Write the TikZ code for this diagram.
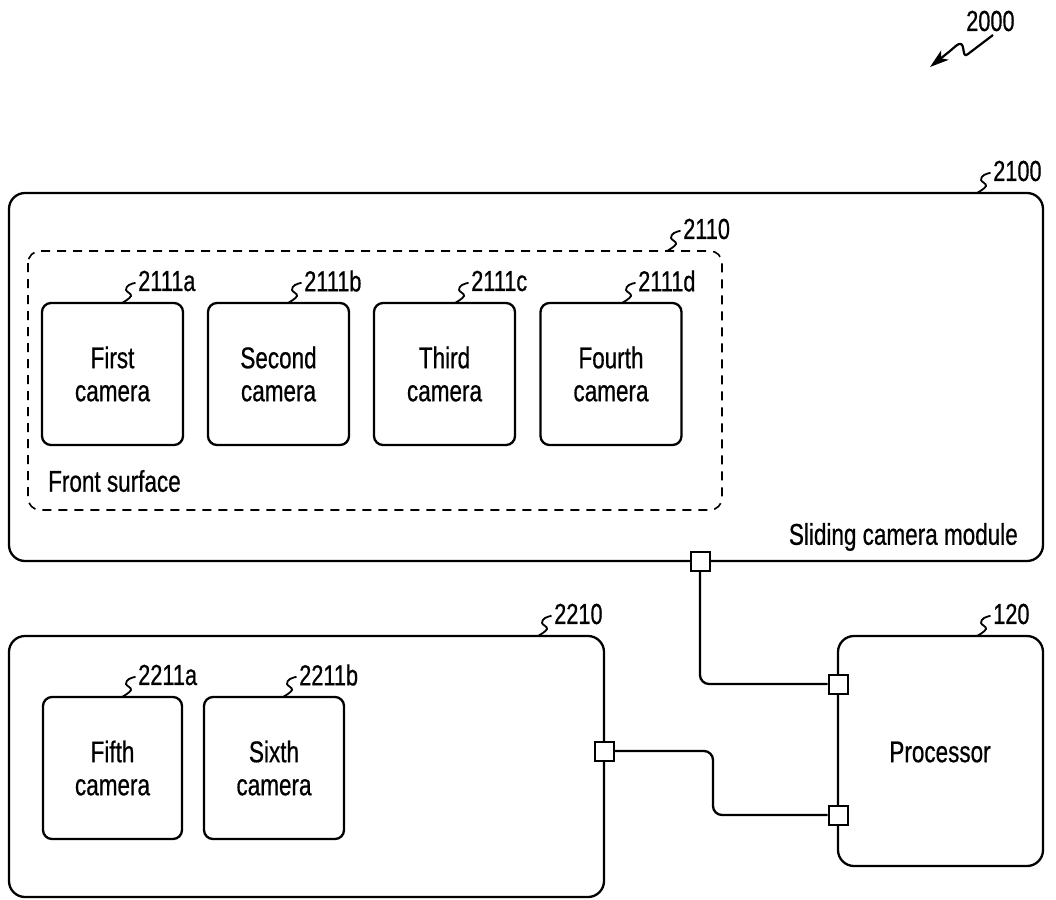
\documentclass[tikz,border=0pt]{standalone}
\usepackage{fontspec}
\setmainfont{Liberation Sans}[FakeStretch=0.75,FakeBold=0.6]
\usetikzlibrary{arrows.meta,calc}
\tikzset{
  boxline/.style={draw, line width=2.3pt, line join=round},
  bigbox/.style={boxline, rounded corners=16pt, inner sep=0pt},
  cam/.style={boxline, rounded corners=9pt, inner sep=0pt, align=center,
    minimum width=141pt, minimum height=142pt, font=\fontsize{30}{33}\selectfont},
  port/.style={draw, line width=2pt, fill=white, minimum size=19pt, inner sep=0pt},
  wire/.style={line width=2.3pt, rounded corners=9pt, line join=round},
  lbl/.style={anchor=west, inner sep=0pt, font=\fontsize{29}{30}\selectfont},
  txt/.style={inner sep=0pt, font=\fontsize{30}{33}\selectfont},
  squig/.style={line width=1.8pt, line cap=round},
}
\newcommand{\leadsq}[4]{%
  \draw[squig, shift={(#2,#3)}] plot[smooth, tension=0.7] coordinates {(0,0) (9,-7) (4,-13) (7,-18) (13,-20)};
  \node[lbl] (#1) at (#2+16,#3-22) {#4};
}
\begin{document}
\begin{tikzpicture}[x=1pt,y=-1pt]
\useasboundingbox (0,0) rectangle (1056,899);

% outer boxes
\draw[boxline, rounded corners=16pt] (9,193) rectangle (1043,561);
\node[inner sep=0pt, minimum width=1034pt, minimum height=368pt] (b2100) at (526,377) {};
\draw[line width=1.6pt, dash pattern=on 9pt off 7pt, rounded corners=12pt] (28,251) rectangle (722,510);
\node[inner sep=0pt, minimum width=694pt, minimum height=259pt] (b2110) at (375,380.5) {};
\draw[boxline, rounded corners=16pt] (9,636) rectangle (604,897);
\node[inner sep=0pt, minimum width=595pt, minimum height=261pt] (b2210) at (306.5,766.5) {};
\node[bigbox, minimum width=205pt, minimum height=230pt] (proc) at (940.5,751) {};
\node[txt] (proctxt) at (940,752) {Processor};

% cameras
\node[cam] (c1) at (112.5,374) {First\\camera};
\node[cam] (c2) at (278.5,374) {Second\\camera};
\node[cam] (c3) at (444.5,374) {Third\\camera};
\node[cam] (c4) at (611,374) {Fourth\\camera};
\node[cam, minimum width=139pt] (c5) at (112.5,768) {Fifth\\camera};
\node[cam, minimum width=140pt] (c6) at (274,768) {Sixth\\camera};

% texts
\node[txt, anchor=west] (front) at (48,481) {Front surface};
\node[txt, anchor=east] (slide) at (1018,537) {Sliding camera module};

% reference labels
\leadsq{l2100}{977}{193}{2100}
\leadsq{l2110}{667}{251}{2110}
\leadsq{l2111a}{122}{303}{2111a}
\leadsq{l2111b}{288}{303}{2111b}
\leadsq{l2111c}{455}{303}{2111c}
\leadsq{l2111d}{622}{303}{2111d}
\leadsq{l2210}{538}{636}{2210}
\leadsq{l120}{977}{636}{120}
\leadsq{l2211a}{122}{697}{2211a}
\leadsq{l2211b}{283}{697}{2211b}

% 2000
\node[lbl] (l2000) at (966,21) {2000};
\draw[line width=2.2pt, line join=round, -{Stealth[length=19pt,width=12pt,inset=5pt]}]
  (993,35) -- (968,54) .. controls (962,59) and (965,46) .. (961,44)
  .. controls (958,43) and (955,47) .. (950,51) -- (930,67);

% ports and wires
\node[port] (p1) at (700,561) {};
\node[port] (p2) at (838,684) {};
\node[port] (p3) at (838,815) {};
\node[port] (p4) at (604,751) {};
\coordinate (k) at (713,815);
\draw[wire] (p1.south) |- (p2.west);
\draw[wire] (p4.east) -| (k) -- (p3.west);
\node[port] at (p1) {};
\node[port] at (p2) {};
\node[port] at (p3) {};
\node[port] at (p4) {};
\end{tikzpicture}
\end{document}
